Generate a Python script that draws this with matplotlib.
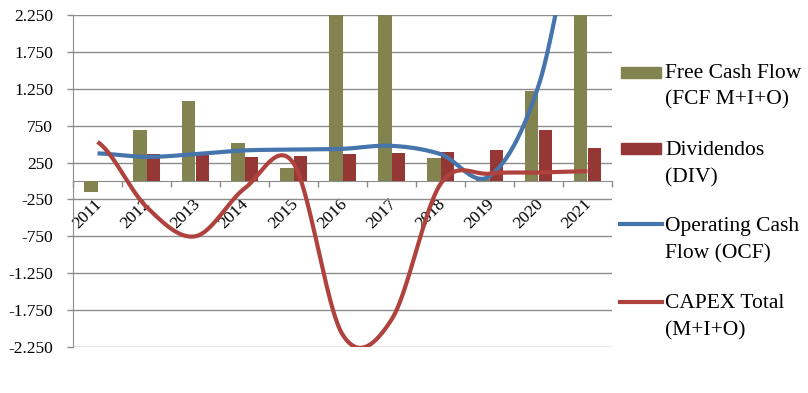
import numpy as np
import matplotlib
matplotlib.use("Agg")
import matplotlib.pyplot as plt
from matplotlib.patches import Rectangle
from matplotlib.lines import Line2D
from matplotlib.transforms import ScaledTranslation

# ---------------- data ----------------
years = ["2011", "2012", "2013", "2014", "2015", "2016", "2017", "2018", "2019", "2020", "2021"]
fcf = [-150, 690, 1085, 520, 180, 2540, 2380, 305, 30, 1225, 3970]
div = [0, 365, 355, 325, 345, 365, 378, 388, 420, 690, 445]
ocf = [375, 327, 364, 415, 425, 436, 477, 365, 65, 1290, 4100]
capex = [530, -351, -749, -102, 240, -2080, -1880, -40, 100, 115, 133]

yticks = [-2250, -1750, -1250, -750, -250, 250, 750, 1250, 1750, 2250]
ytick_labels = ["-2.250", "-1.750", "-1.250", "-750", "-250", "250", "750", "1.250", "1.750", "2.250"]

legend_labels = [
    ("Free Cash Flow", "(FCF M+I+O)"),
    ("Dividendos", "(DIV)"),
    ("Operating Cash", "Flow (OCF)"),
    ("CAPEX Total", "(M+I+O)"),
]

C_FCF = "#82834F"
C_DIV = "#953735"
C_OCF = "#4674AC"
C_CAPEX = "#B0423E"
GRID = "#8C8C8C"

plt.rcParams["font.family"] = ["Liberation Serif", "DejaVu Serif"]


def smooth(xv, yv, n=40):
    x = np.asarray(xv, float)
    y = np.asarray(yv, float)
    m = np.empty_like(y)
    m[1:-1] = (y[2:] - y[:-2]) / 2
    m[0] = (y[1] - y[0]) / 2
    m[-1] = (y[-1] - y[-2]) / 2
    xs, ys = [], []
    for i in range(len(x) - 1):
        t = np.linspace(0, 1, n, endpoint=(i == len(x) - 2))
        h00 = 2 * t**3 - 3 * t**2 + 1
        h10 = t**3 - 2 * t**2 + t
        h01 = -2 * t**3 + 3 * t**2
        h11 = t**3 - t**2
        ys.append(h00 * y[i] + h10 * m[i] + h01 * y[i + 1] + h11 * m[i + 1])
        xs.append(x[i] + t * (x[i + 1] - x[i]))
    return np.concatenate(xs), np.concatenate(ys)


W, H = 808, 393
fig = plt.figure(figsize=(W / 100, H / 100), dpi=100)
ax = fig.add_axes([73 / W, 1 - 347 / H, (612 - 73) / W, (347 - 15) / H])

x = np.arange(len(years))
bw = 0.28
ax.bar(x - bw / 2, fcf, width=bw, color=C_FCF, zorder=2)
ax.bar(x + bw / 2, div, width=bw, color=C_DIV, zorder=2)

sx, sy = smooth(x, ocf)
ax.plot(sx, sy, color=C_OCF, lw=3, zorder=3, solid_capstyle="butt")
sx, sy = smooth(x, capex)
ax.plot(sx, sy, color=C_CAPEX, lw=3, zorder=4, solid_capstyle="butt")

ax.set_xlim(-0.5, len(years) - 0.5)
ax.set_ylim(-2250, 2250)

ax.set_yticks(yticks)
ax.set_yticklabels(ytick_labels, fontsize=12.5)
ax.yaxis.grid(True, color=GRID, lw=1, zorder=0)
ax.set_axisbelow(True)
ax.tick_params(axis="y", direction="out", length=4.3, width=1, color=GRID, pad=10)

for s in ["top", "right"]:
    ax.spines[s].set_visible(False)
ax.spines["left"].set_color(GRID)
ax.spines["bottom"].set_position(("data", 0))
ax.spines["bottom"].set_color(GRID)
ax.spines["bottom"].set_zorder(1)

ax.set_xticks(x)
ax.set_xticklabels(years, fontsize=12.5)
ax.set_xticks(np.arange(-0.5, len(years)), minor=True)
ax.tick_params(axis="x", which="major", length=0, pad=15)
ax.tick_params(axis="x", which="minor", direction="out", length=4.3, width=1, color=GRID)
for lab in ax.get_xticklabels():
    lab.set_rotation(45)
    lab.set_ha("right")
    lab.set_va("center")
    lab.set_rotation_mode("anchor")
    lab.set_transform(lab.get_transform() + ScaledTranslation(2 / 100, 0, fig.dpi_scale_trans))

# ---------------- legend (manual, first-line aligned keys) ----------------
fx = lambda px: px / W
fy = lambda py: 1 - py / H
key_centers = [72, 148.5, 224, 302]
baselines = [77.5, 155, 231.5, 308]
for i, ((l1, l2), kc, bl) in enumerate(zip(legend_labels, key_centers, baselines)):
    if i < 2:
        col = C_FCF if i == 0 else C_DIV
        fig.add_artist(Rectangle((fx(621), fy(kc + 5.5)), 40 / W, 11 / H,
                                 transform=fig.transFigure, color=col))
    else:
        col = C_OCF if i == 2 else C_CAPEX
        fig.add_artist(Line2D([fx(620), fx(662)], [fy(kc), fy(kc)],
                              transform=fig.transFigure, color=col, lw=3))
    fig.text(fx(665), fy(bl), l1, fontsize=15.5, va="baseline", ha="left")
    fig.text(fx(665), fy(bl + 27), l2, fontsize=15.5, va="baseline", ha="left")

fig.savefig("out.png", dpi=100)
